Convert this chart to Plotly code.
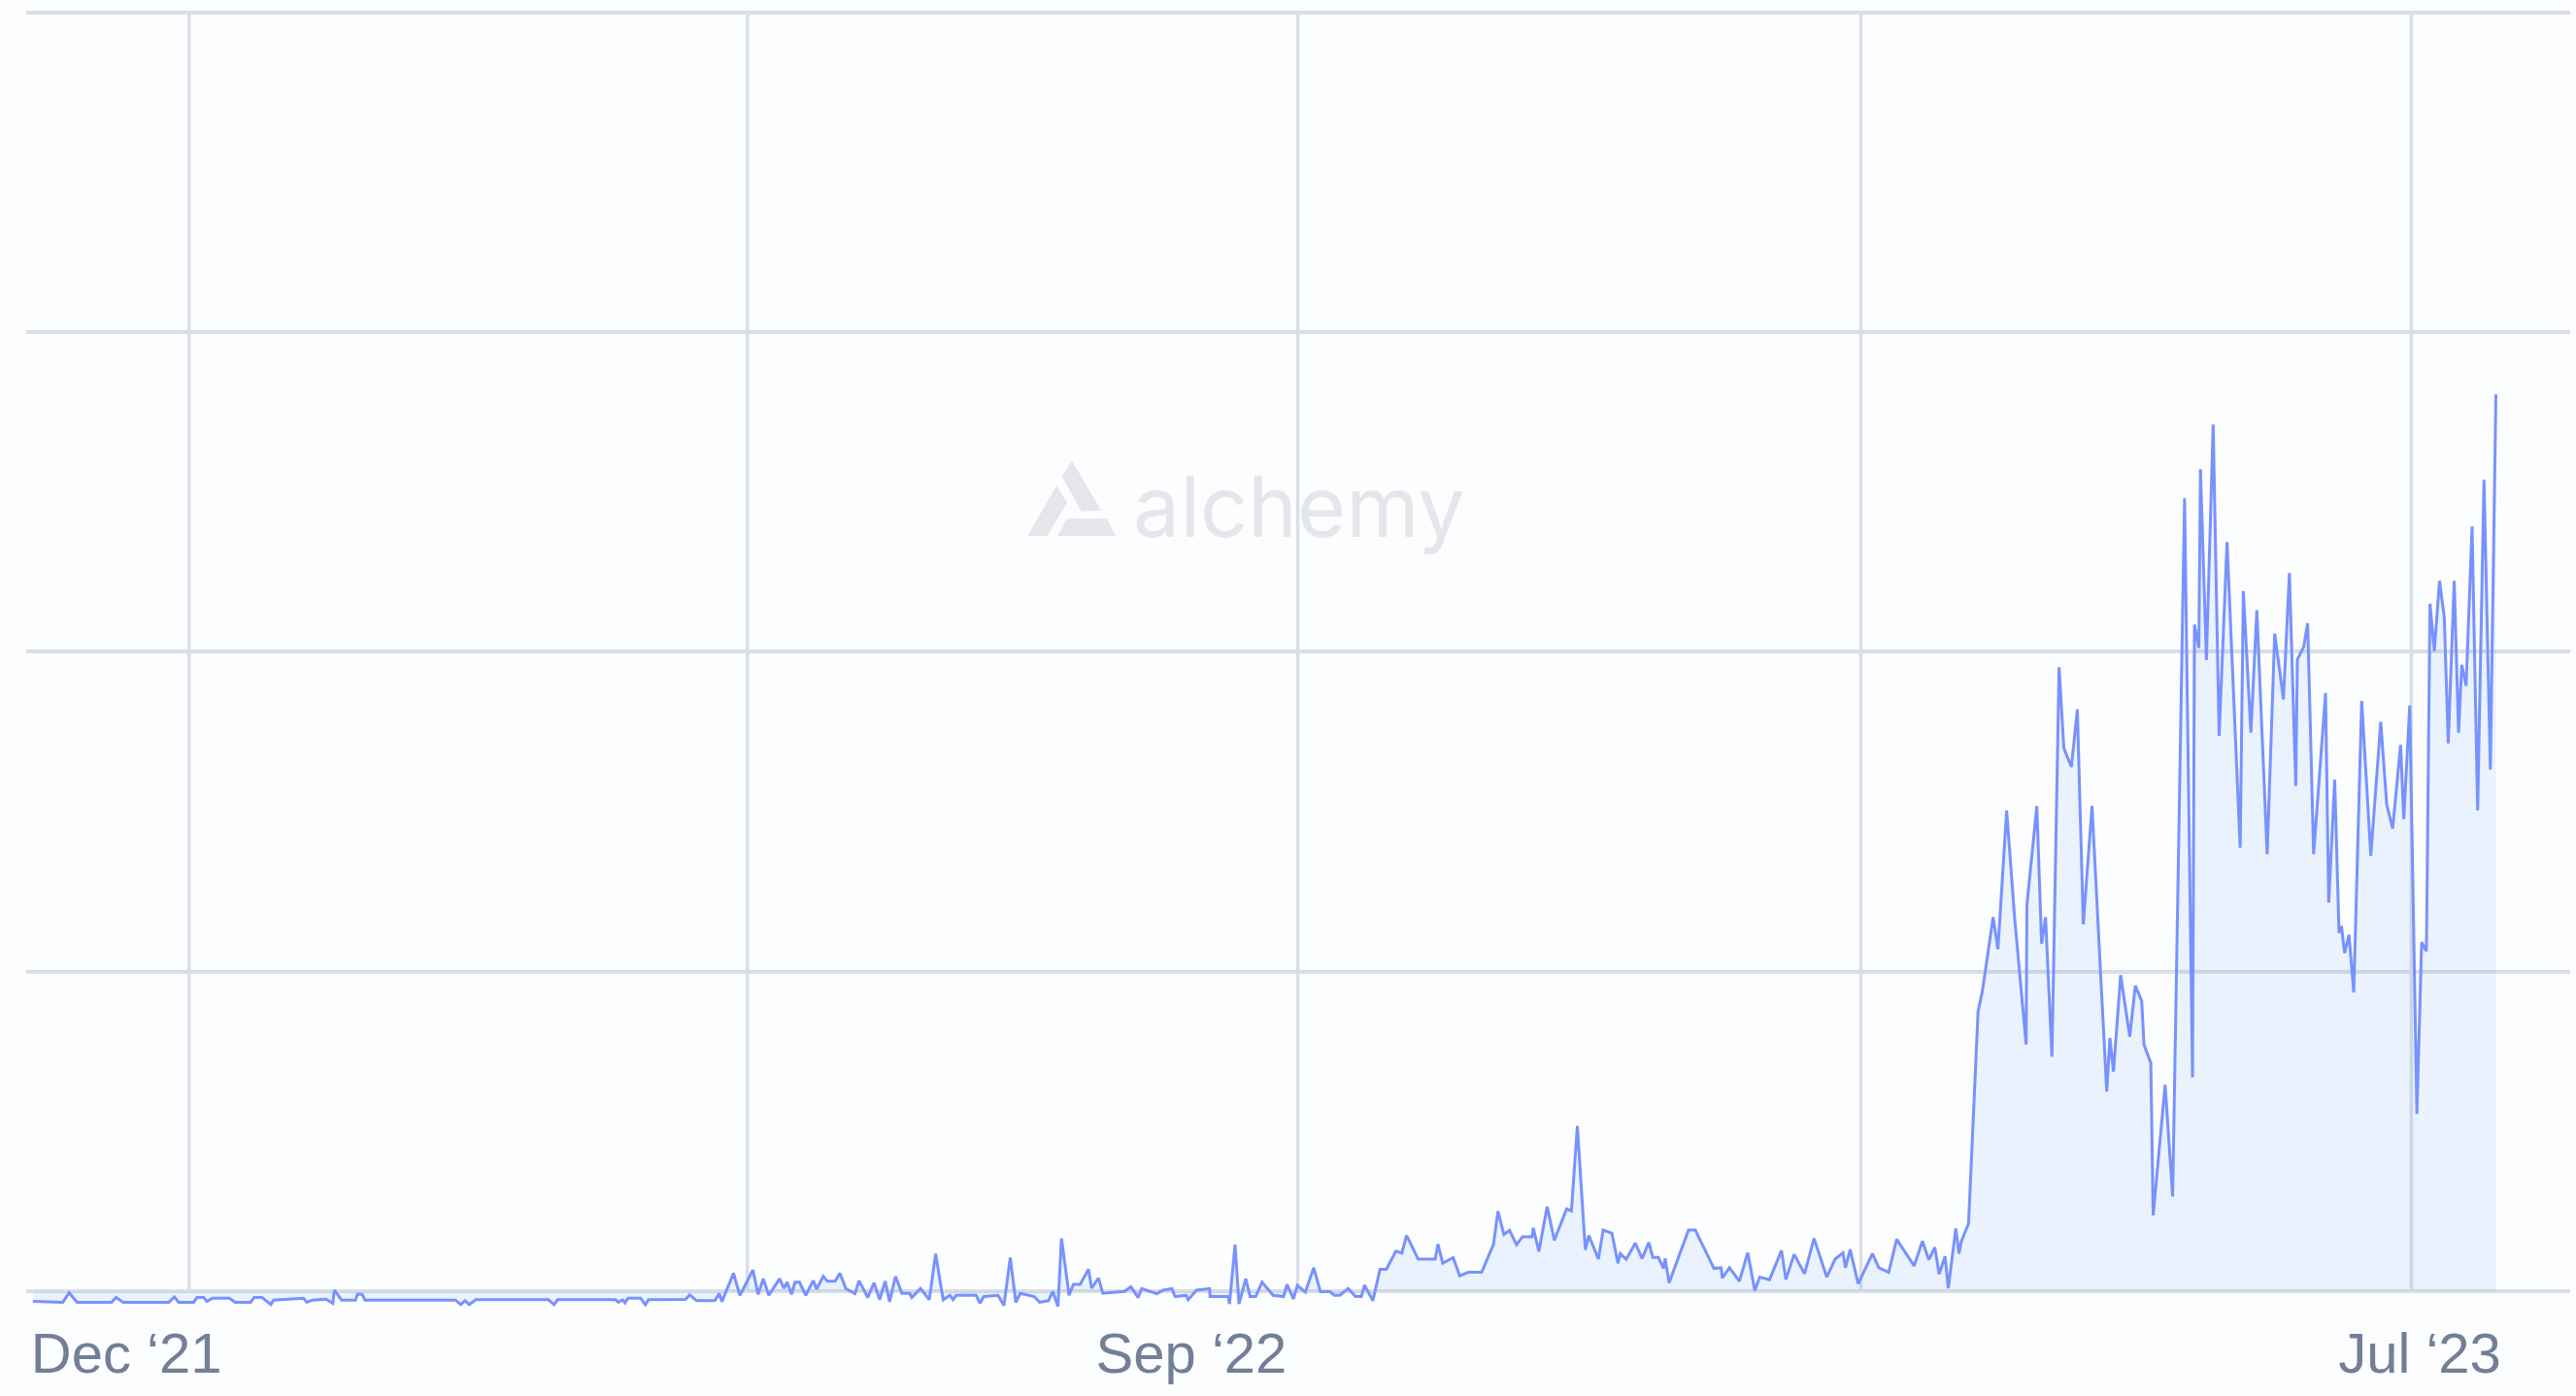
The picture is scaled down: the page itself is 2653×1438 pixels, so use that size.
import pandas as pd
import plotly.graph_objects as go

# ---------------- data ----------------
start_date = "2021-11-07"

day_offset = [
    0.0, 7.5, 9.1, 11.1, 19.8, 20.9, 22.7, 34.2, 35.6, 36.7, 40.5, 41.3, 43.0, 43.8, 45.2,
    49.5, 50.9, 54.8, 55.7, 57.7, 59.9, 60.6, 68.1, 69.0, 70.4, 73.8, 75.5, 75.9, 77.7, 81.2,
    81.7, 82.9, 83.6, 106.4, 107.7, 108.8, 109.9, 111.5, 129.8, 131.2, 132.1, 146.7, 147.4, 148.5, 149.1,
    149.8, 153.0, 154.2, 155.0, 162.8,
    164.3, 165.4, 167.1, 171.7, 172.8, 173.5, 176.4, 178.0, 181.3, 182.6, 183.9, 185.3, 188.0, 189.1, 189.9,
    191.0, 191.9, 193.0, 194.6, 196.5, 197.3, 199.0, 200.0, 202.0, 203.2, 204.7, 207.0, 208.0, 210.2, 211.8,
    213.2, 214.6, 215.7, 217.2, 218.8, 220.8, 221.3, 223.5, 225.7, 227.3, 229.2, 230.9, 231.7, 232.5, 237.5,
    238.5, 239.4, 243.0, 244.5, 246.1, 247.5, 248.6, 252.1, 253.5, 255.7, 256.8, 258.1, 259.0, 260.9, 262.0,
    263.7, 265.8, 266.6, 268.3, 269.4, 274.8, 276.5, 278.3, 279.2, 283.0, 284.6, 286.8, 287.6, 290.4, 290.9,
    293.0, 296.3, 296.4, 301.0, 301.3, 302.7, 303.7, 305.4, 306.5, 307.9, 309.5,
    312.3, 314.9, 315.8, 317.4, 318.4, 320.4, 322.5, 324.2, 326.6, 327.7, 329.1, 331.2, 333.0, 334.5, 335.3,
    337.4, 339.2, 340.8, 343.2, 344.7, 345.9, 348.8, 353.1, 353.8, 355.0, 357.6, 359.3, 361.4, 364.8, 367.8,
    368.9, 370.4, 371.8, 373.6, 375.1, 377.5, 377.8, 379.2, 381.3, 383.1, 386.2, 387.4, 388.9, 390.9, 391.8,
    394.2, 395.4, 397.6, 399.1, 399.7, 401.2, 403.5, 405.2, 406.9, 407.9, 409.3, 410.6, 411.0, 412.0, 414.9,
    416.9, 418.6, 423.3, 425.1, 425.4, 427.2, 429.7, 431.8, 433.6, 434.8, 437.3, 440.3, 441.4, 443.5, 446.1,
    448.5, 451.7, 453.8, 455.8, 456.4, 457.6, 459.6, 463.2, 464.8, 467.3, 469.3, 473.7,
    475.8, 477.4, 478.9, 480.0, 481.5, 482.3, 484.2, 485.0, 485.6, 487.4, 489.8, 490.9, 493.6, 494.8, 497.0,
    499.0, 501.9, 502.1, 504.6, 505.8, 506.8, 508.4, 510.2, 511.4, 513.3, 514.8, 516.3, 518.5, 520.6, 522.2,
    523.0, 523.9, 525.7, 528.0, 529.4, 531.0, 531.6, 533.3, 533.9, 536.9, 538.8,
    541.8, 543.8, 544.3, 545.4, 545.8, 547.3, 549.0, 550.5, 552.5, 555.8, 556.6, 558.5, 560.0, 562.6, 564.5,
    566.7, 568.2, 569.8, 570.2, 571.8, 572.8, 574.3, 577.3, 578.1, 579.6, 580.7, 581.3, 582.1, 583.2, 584.4,
    586.4, 588.7, 591.2, 592.7, 594.2, 596.2, 597.0, 598.5, 600.3, 601.5, 602.7, 603.6, 604.7, 606.0, 607.2,
    608.2, 609.7, 610.8, 611.6, 612.7, 614.2, 615.6, 617.2, 618.8, 620.2,
]

activity = [
    -31, -34, -4, -34, -34, -19, -34, -34, -17, -34, -34, -19, -19, -31, -21,
    -21, -34, -34, -19, -19, -41, -27, -21, -34, -27, -24, -37, 4, -27, -27,
    -9, -9, -27, -27, -41, -29, -41, -26, -26, -41, -26, -26, -34, -26, -36,
    -21, -21, -42, -26, -26,
    -25, -11, -29, -29, -7, -32, 57, -12, 67, -9, 40, -12, 40, 10, 29,
    -9, 29, 29, -12, 34, 7, 47, 32, 32, 57, 9, -7, 34, -19, 27,
    -26, 32, -32, 47, -6, -6, -19, 9, -26, 118, -26, -12, -26, -12, -12,
    -37, -16, -12, -44, 106, -34, -6, -16, -34, -29, 0, -47, 166, -12, 22,
    22, 69, 10, 42, -6, 0, 14, -19, 9, -7, 4, 9, -16, -12, -26,
    4, 9, -16, -16, -39, 146, -39, 40, -16, -16, 29,
    -12, -16, 22, -24, 19, -2, 74, -1, -1, -12, -12, 9, -16, -16, 20,
    -29, 69, 69, 126, 120, 175, 101, 101, 148, 88, 106, 49, 60, 60, 148,
    251, 178, 191, 146, 171, 171, 199, 125, 265, 160, 258, 252, 517, 130, 175,
    101, 192, 182, 88, 118, 101, 151, 103, 153, 106, 106, 72, 103, 27, 125,
    192, 192, 72, 74, 42, 74, 32, 121, 2, 45, 37, 128, 37, 116, 55,
    166, 45, 101, 121, 74, 131, 24, 118, 74, 60, 163, 80,
    157, 99, 138, 54, 110, 10, 197, 118, 157, 212, 875, 940, 1170, 1070, 1504,
    1170, 772, 1209, 1518, 1087, 1170, 734, 1952, 1699, 1640, 1820, 1148, 1518, 1008, 625,
    793, 687, 989, 797, 956, 908, 771, 714, 238, 646, 297,
    2480, 669, 2085, 2012, 2571, 1974, 2711, 1737, 2343, 1387, 2190, 1747, 2130, 1367, 2057,
    1851, 2246, 1580, 1975, 2016, 2089, 1367, 1871, 1216, 1600, 1121, 1143, 1058, 1115, 935,
    1846, 1362, 1781, 1523, 1447, 1709, 1477, 1832, 555, 1092, 1064, 2150, 2002, 2222, 2107,
    1714, 2222, 1747, 1959, 1894, 2392, 1504, 2538, 1632, 2805,
]

grid_values = [0, 1000, 2000, 3000, 4000]
grid_day_offset = [39.3, 179.9, 318.5, 460.3, 598.9]
tick_day_offset = [23.5, 291.7, 601.0]
tick_labels = ["Dec \u201821", "Sep \u201822", "Jul \u201823"]

# ---------------- styling ----------------
W, H = 2653, 1438
BG = "#FCFDFE"
GRID = "#DADEE5"
LINE = "#7892FD"
FILL = "rgba(80,150,245,0.10)"
LABEL = "#718096"
MARK = "#E4E6EA"

ML, MR, MT, MB = 27, 6, 0, 83
PW, PH = W - ML - MR, H - MT - MB

t0 = pd.Timestamp(start_date)


def day(d):
    return t0 + pd.to_timedelta(d, unit="D")


x = [day(d) for d in day_offset]

fig = go.Figure()
fig.add_trace(go.Scatter(
    x=x, y=activity, mode="lines",
    line=dict(color=LINE, width=3),
    fill="tozeroy", fillcolor=FILL,
    hoverinfo="skip", showlegend=False,
))

shapes = []
for d in grid_day_offset:
    shapes.append(dict(type="line", xref="x", yref="y", x0=day(d), x1=day(d),
                       y0=grid_values[0], y1=grid_values[-1],
                       line=dict(color=GRID, width=3.5), layer="below"))


# watermark logo (decoration), pixel positions -> paper
def pp(px, py):
    return (px - ML) / PW, 1 - (py - MT) / PH


def poly(pts):
    s = ""
    for i, (a, b) in enumerate(pts):
        u, v = pp(a, b)
        s += ("M" if i == 0 else "L") + f"{u:.5f},{v:.5f} "
    return s + "Z"


logo_parts = [
    [(1103.8, 474.3), (1134.1, 526.0), (1113.8, 526.7), (1093.9, 491.0)],
    [(1088.1, 500.0), (1098.9, 517.7), (1078.5, 552.3), (1058.2, 552.3)],
    [(1098.9, 534.3), (1139.8, 534.3), (1149.4, 552.3), (1088.9, 552.3)],
]
for part in logo_parts:
    shapes.append(dict(type="path", xref="paper", yref="paper", path=poly(part),
                       fillcolor=MARK, line=dict(width=0), layer="below"))

wx, wy = pp(1337.5, 522)
fig.add_annotation(text="alchemy", xref="paper", yref="paper", x=wx, y=wy,
                   xanchor="center", yanchor="middle", showarrow=False,
                   font=dict(family="Inter", size=86, color=MARK))

fig.update_layout(
    width=W, height=H,
    margin=dict(l=ML, r=MR, t=MT, b=MB, pad=0),
    paper_bgcolor=BG, plot_bgcolor=BG,
    showlegend=False,
    shapes=shapes,
    xaxis=dict(
        range=[day(-1.7), day(638.9)],
        showgrid=False, zeroline=False, showline=False, ticks="",
        tickvals=[day(d) for d in tick_day_offset], ticktext=tick_labels,
        tickangle=0,
        tickfont=dict(family="Liberation Sans", size=58, color=LABEL),
    ),
    yaxis=dict(
        range=[-75, 4038],
        tickvals=grid_values, showticklabels=False,
        showgrid=True, gridcolor=GRID, gridwidth=3.5,
        zeroline=False, showline=False, ticks="",
    ),
)

fig.write_html("out.html", config={"displayModeBar": False},
               post_script="document.body.style.margin='0';")
